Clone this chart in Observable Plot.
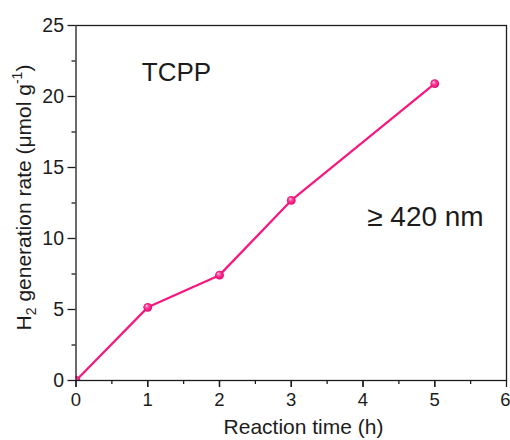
<!DOCTYPE html>
<html>
<head>
<meta charset="utf-8">
<script src="https://cdn.jsdelivr.net/npm/d3@7"></script>
<script src="https://cdn.jsdelivr.net/npm/@observablehq/plot@0.6"></script>
<style>
  body { margin: 0; background: #fff; }
  svg { display: block; }
</style>
</head>
<body>
<div id="chart"></div>
<script>
// Photocatalytic H2 evolution of TCPP under visible light
const time = [0, 1, 2, 3, 5];            // h
const rate = [0, 5.15, 7.42, 12.68, 20.9]; // µmol g-1
const xTicks = [0, 1, 2, 3, 4, 5, 6];
const xLabelled = [0, 1, 2, 3, 4, 5];
const xLast = [6];
const xMinor = [0.5, 1.5, 2.5, 3.5, 4.5, 5.5];
const yTicks = [0, 5, 10, 15, 20, 25];
const yMinor = [2.5, 7.5, 12.5, 17.5, 22.5];
const sampleLabel = "TCPP";
const lightLabel = "≥ 420 nm";
const xLabel = "Reaction time (h)";

const data = time.map((t, i) => ({time: t, rate: rate[i]}));

const pink = "#f8167f";
const ink = "#1c1c1c";
const font = "'Liberation Sans', Arial, Helvetica, sans-serif";

const chart = Plot.plot({
  width: 510,
  height: 440,
  marginLeft: 75.5,
  marginRight: 4,
  marginTop: 25,
  marginBottom: 60,
  style: {fontFamily: font, fontSize: "18px", color: ink, background: "#fff"},
  x: {domain: [0, 6]},
  y: {domain: [0, 25]},
  marks: [
    Plot.line(data, {x: "time", y: "rate", stroke: pink, strokeWidth: 2.2}),
    Plot.dot(data, {x: "time", y: "rate", r: 4.4, fill: "url(#sphere)", clip: true}),
    Plot.frame({stroke: ink, strokeWidth: 1.3}),
    // major ticks, then labels (the last one kept inside the page edge)
    Plot.axisX({ticks: xTicks, tickSize: 7, tickFormat: () => "", label: null, strokeWidth: 1.3}),
    Plot.axisX({ticks: xLabelled, tickSize: 7, tickPadding: 5, tickFormat: "d", label: null,
      strokeWidth: 1.3, fill: ink, fontSize: 18.5}),
    Plot.axisX({ticks: xLast, tickSize: 0, tickPadding: 12, tickFormat: "d", label: null,
      textAnchor: "end", dx: 4, fill: ink, fontSize: 18.5}),
    Plot.axisX({ticks: xMinor, tickSize: 4, tickFormat: () => "", label: null, strokeWidth: 1.3}),
    Plot.axisY({ticks: yTicks, tickSize: 8, tickPadding: 4, tickFormat: "d", label: null,
      strokeWidth: 1.3, fill: ink, fontSize: 19.5}),
    Plot.axisY({ticks: yMinor, tickSize: 4, tickFormat: () => "", label: null, strokeWidth: 1.3}),
    Plot.text([sampleLabel], {x: 1.4, y: 21.7, text: d => d, fontSize: 26, fill: ink}),
    Plot.text([lightLabel], {x: 4.87, y: 11.5, text: d => d, fontSize: 28, fill: ink})
  ]
});

const svg = d3.select(chart);

// shaded marker fill
const grad = svg.insert("defs", ":first-child")
  .append("radialGradient")
  .attr("id", "sphere")
  .attr("cx", "50%").attr("cy", "50%").attr("r", "55%")
  .attr("fx", "35%").attr("fy", "30%");
grad.append("stop").attr("offset", "0%").attr("stop-color", "#ffd3e8");
grad.append("stop").attr("offset", "40%").attr("stop-color", "#ff3d98");
grad.append("stop").attr("offset", "100%").attr("stop-color", "#e0006b");

// axis titles
svg.append("text")
  .attr("x", 303.5)
  .attr("y", 434)
  .attr("text-anchor", "middle")
  .attr("font-family", font)
  .attr("font-size", 21)
  .attr("fill", ink)
  .text(xLabel);

const yl = svg.append("text")
  .attr("transform", "translate(31,197.5) rotate(-90)")
  .attr("text-anchor", "middle")
  .attr("font-family", font)
  .attr("font-size", 21)
  .attr("fill", ink);
yl.append("tspan").text("H");
yl.append("tspan").attr("font-size", 14).attr("dy", 5).text("2");
yl.append("tspan").attr("dy", -5).text(" generation rate (μmol g");
yl.append("tspan").attr("font-size", 14).attr("dy", -9).text("-1");
yl.append("tspan").attr("dy", 9).text(")");

document.getElementById("chart").appendChild(chart);
</script>
</body>
</html>
